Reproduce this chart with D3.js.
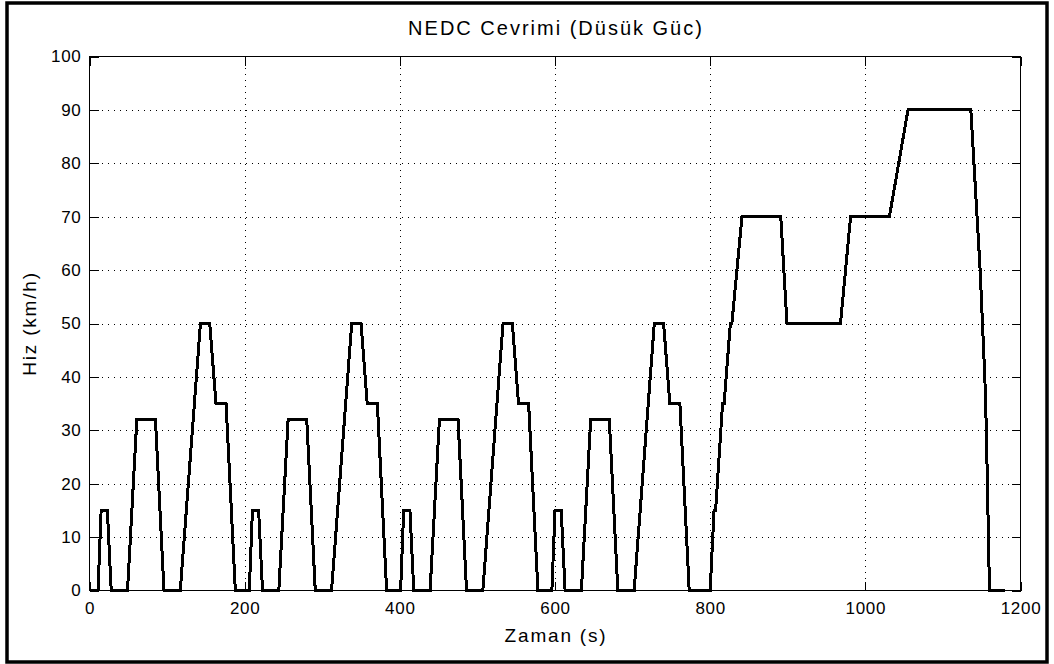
<!DOCTYPE html>
<html>
<head>
<meta charset="utf-8">
<script src="https://d3js.org/d3.v7.min.js"></script>
<style>
    html, body {
        margin: 0;
        padding: 0;
        background: #fff;
    }

    svg {
        display: block;
    }

    text {
        font-family: "Liberation Sans", Arial, Helvetica, sans-serif;
        fill: #000;
    }

    text.tick-label {
        font-size: 17px;
        letter-spacing: 0.7px;
    }

    text.axis-label {
        font-size: 19px;
        letter-spacing: 1.8px;
    }

    text.title {
        font-size: 20px;
        letter-spacing: 2px;
    }

    .grid line {
        stroke: #000;
        stroke-width: 1px;
        stroke-dasharray: 1, 5;
        shape-rendering: crispEdges;
    }

    .ticks line {
        stroke: #000;
        shape-rendering: crispEdges;
    }
</style>
</head>
<body>
<div id="chart"></div>
<script>
    // NEDC hiz profili: 4 x ECE-15 + EUDC (dusuk guc, max 90 km/h)
    var timeSec = [
        0, 11, 15, 23, 28, 49, 61, 85, 96, 117, 143, 155, 163, 176, 188,
        195, 206, 210, 218, 223, 244, 256, 280, 291, 312, 338, 350, 358, 371, 383,
        390, 401, 405, 413, 418, 439, 451, 475, 486, 507, 533, 545, 553, 566, 578,
        585, 596, 600, 608, 613, 634, 646, 670, 681, 702, 728, 740, 748, 761, 773,
        780, 800, 805, 807, 816, 818, 826, 828, 841, 891, 899, 968, 981, 1031, 1055,
        1136, 1140, 1144, 1148, 1151, 1154, 1156, 1158, 1160, 1180
    ];
    var speedKmh = [
        0, 0, 15, 15, 0, 0, 32, 32, 0, 0, 50, 50, 35, 35, 0,
        0, 0, 15, 15, 0, 0, 32, 32, 0, 0, 50, 50, 35, 35, 0,
        0, 0, 15, 15, 0, 0, 32, 32, 0, 0, 50, 50, 35, 35, 0,
        0, 0, 15, 15, 0, 0, 32, 32, 0, 0, 50, 50, 35, 35, 0,
        0, 0, 15, 15, 35, 35, 50, 50, 70, 70, 50, 50, 70, 70, 90,
        90, 80, 70, 60, 50, 40, 30, 15, 0, 0
    ];

    var xTicks = [0, 200, 400, 600, 800, 1000, 1200];
    var yTicks = [0, 10, 20, 30, 40, 50, 60, 70, 80, 90, 100];

    var titleText = "NEDC Cevrimi (Düsük Güc)";
    var xLabelText = "Zaman (s)";
    var yLabelText = "Hiz (km/h)";

    // note: "top" is taken by window.top, so the plot box uses its own names
    var width = 1054,
        height = 664,
        plotLeft = 89.5,
        plotRight = 1020.5,
        plotTop = 56.5,
        plotBottom = 590.5,
        tickLen = 9;

    var svg = d3.select("#chart").append("svg")
        .attr("width", width)
        .attr("height", height);

    // outer frame
    svg.append("rect")
        .attr("x", 7)
        .attr("y", 3)
        .attr("width", 1040)
        .attr("height", 659)
        .attr("fill", "none")
        .attr("stroke", "#000")
        .attr("stroke-width", 3.5);

    var x = d3.scaleLinear().domain([0, 1200]).range([plotLeft, plotRight]);
    var y = d3.scaleLinear().domain([0, 100]).range([plotBottom, plotTop]);

    // dotted grid, inner ticks only
    var xInner = xTicks.slice(1, -1),
        yInner = yTicks.slice(1, -1);

    svg.append("g")
        .attr("class", "grid")
        .attr("transform", "translate(0," + plotBottom + ")")
        .call(d3.axisBottom(x).tickValues(xInner).tickSize(-(plotBottom - plotTop)).tickFormat(""))
        .call(function (g) { g.select(".domain").remove(); });

    svg.append("g")
        .attr("class", "grid")
        .attr("transform", "translate(" + plotLeft + ",0)")
        .call(d3.axisLeft(y).tickValues(yInner).tickSize(-(plotRight - plotLeft)).tickFormat(""))
        .call(function (g) { g.select(".domain").remove(); });

    function cleanAxis(g) {
        g.attr("font-size", null).attr("font-family", null);
        g.select(".domain").remove();
        g.selectAll("text").attr("class", "tick-label");
    }

    // axes with inward ticks on all four sides
    svg.append("g")
        .attr("class", "ticks")
        .attr("transform", "translate(0," + plotBottom + ")")
        .call(d3.axisBottom(x).tickValues(xTicks).tickSize(-tickLen).tickPadding(11).tickFormat(d3.format("d")))
        .call(cleanAxis);

    svg.append("g")
        .attr("class", "ticks")
        .attr("transform", "translate(0," + plotTop + ")")
        .call(d3.axisTop(x).tickValues(xTicks).tickSize(-tickLen).tickFormat(""))
        .call(cleanAxis);

    svg.append("g")
        .attr("class", "ticks")
        .attr("transform", "translate(" + plotLeft + ",0)")
        .call(d3.axisLeft(y).tickValues(yTicks).tickSize(-tickLen).tickPadding(8).tickFormat(d3.format("d")))
        .call(cleanAxis);

    svg.append("g")
        .attr("class", "ticks")
        .attr("transform", "translate(" + plotRight + ",0)")
        .call(d3.axisRight(y).tickValues(yTicks).tickSize(-tickLen).tickFormat(""))
        .call(cleanAxis);

    // axes box
    svg.append("rect")
        .attr("x", plotLeft)
        .attr("y", plotTop)
        .attr("width", plotRight - plotLeft)
        .attr("height", plotBottom - plotTop)
        .attr("fill", "none")
        .attr("stroke", "#000")
        .attr("stroke-width", 1)
        .attr("shape-rendering", "crispEdges");

    // speed trace
    var points = d3.zip(timeSec, speedKmh);
    var line = d3.line()
        .x(function (d) { return x(d[0]); })
        .y(function (d) { return y(d[1]); });

    svg.append("path")
        .datum(points)
        .attr("d", line)
        .attr("fill", "none")
        .attr("stroke", "#000")
        .attr("stroke-width", 3)
        .attr("stroke-linejoin", "miter")
        .attr("shape-rendering", "crispEdges");

    // texts
    svg.append("text")
        .attr("class", "title")
        .attr("x", (plotLeft + plotRight) / 2 + 1)
        .attr("y", 35)
        .attr("text-anchor", "middle")
        .text(titleText);

    svg.append("text")
        .attr("class", "axis-label")
        .attr("x", (plotLeft + plotRight) / 2 + 1)
        .attr("y", 642)
        .attr("text-anchor", "middle")
        .text(xLabelText);

    svg.append("text")
        .attr("class", "axis-label")
        .attr("transform", "translate(36," + ((plotTop + plotBottom) / 2) + ") rotate(-90)")
        .attr("text-anchor", "middle")
        .text(yLabelText);
</script>
</body>
</html>
